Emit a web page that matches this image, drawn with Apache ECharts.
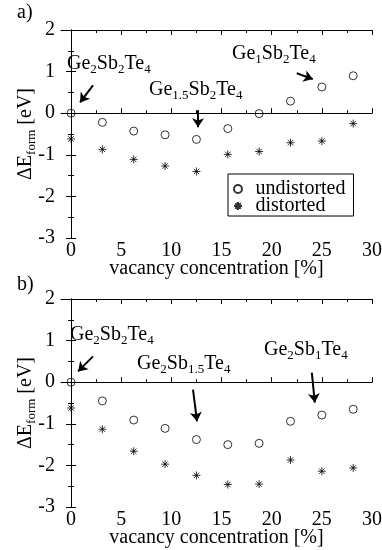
<!DOCTYPE html>
<html>
<head>
<meta charset="utf-8">
<script src="https://cdn.jsdelivr.net/npm/echarts@6/dist/echarts.min.js"></script>
<style>
  html, body { margin: 0; padding: 0; background: #fff; }
  #chart { width: 382px; height: 550px; }
</style>
</head>
<body>
<div id="chart"></div>
<script>
// vacancy concentration [%]
const vacancy = [0, 3.125, 6.25, 9.375, 12.5, 15.625, 18.75, 21.875, 25, 28.125]
// panel a) Ge removed
const undistA = [0, -0.22, -0.43, -0.52, -0.63, -0.37, -0.01, 0.29, 0.63, 0.90]
const distA = [-0.62, -0.87, -1.11, -1.27, -1.40, -0.99, -0.92, -0.71, -0.67, -0.25]
// panel b) Sb removed
const undistB = [0, -0.45, -0.91, -1.11, -1.38, -1.50, -1.47, -0.94, -0.79, -0.65]
const distB = [-0.62, -1.13, -1.66, -1.97, -2.24, -2.46, -2.45, -1.87, -2.14, -2.06]

const xMajor = [0, 5, 10, 15, 20, 25, 30]
const xMinor = [2.5, 7.5, 12.5, 17.5, 22.5, 27.5]

const FONT = 'Liberation Serif'
const star = 'path://M5,0L5,10M0,5L10,5M1.6,1.6L8.4,8.4M1.6,8.4L8.4,1.6'

const chart = echarts.init(document.getElementById('chart'))

const zip = (ys) => vacancy.map((x, i) => [x, ys[i]])

function xAxes (g) {
  const base = {
    type: 'value',
    gridIndex: g,
    min: -1,
    max: 30,
    splitLine: { show: false },
    axisLine: { show: true, lineStyle: { color: '#000', width: 1 } }
  }
  return [
    Object.assign({}, base, {
      position: 'bottom',
      axisTick: { inside: true, length: 5, customValues: xMajor, lineStyle: { color: '#000' } },
      axisLabel: { customValues: xMajor, margin: 3, color: '#000', fontFamily: FONT, fontSize: 20 },
      name: 'vacancy concentration [%]',
      nameLocation: 'middle',
      nameGap: 21,
      nameMoveOverlap: false,
      nameTextStyle: { color: '#000', fontFamily: FONT, fontSize: 20 }
    }),
    Object.assign({}, base, {
      position: 'bottom',
      axisLine: { show: false },
      axisTick: { inside: true, length: 3, customValues: xMinor, lineStyle: { color: '#000' } },
      axisLabel: { show: false }
    }),
    Object.assign({}, base, {
      position: 'top',
      axisTick: { inside: true, length: 5, customValues: xMajor, lineStyle: { color: '#000' } },
      axisLabel: { show: false }
    }),
    Object.assign({}, base, {
      position: 'top',
      axisLine: { show: false },
      axisTick: { inside: true, length: 3, customValues: xMinor, lineStyle: { color: '#000' } },
      axisLabel: { show: false }
    })
  ]
}

function yAxes (g) {
  const base = {
    type: 'value',
    gridIndex: g,
    min: -3,
    max: 2,
    interval: 1,
    splitLine: { show: false },
    axisLine: { show: true, lineStyle: { color: '#000', width: 1 } },
    axisTick: { inside: true, length: 5, lineStyle: { color: '#000' } },
    minorTick: { show: true, splitNumber: 2, length: 3, lineStyle: { color: '#000' } }
  }
  return [
    Object.assign({}, base, {
      position: 'left',
      axisLabel: { margin: 6, color: '#000', fontFamily: FONT, fontSize: 20 },
      name: '{n|ΔE}{s|form}{n| [eV]}',
      nameLocation: 'middle',
      nameGap: 23,
      nameMoveOverlap: false,
      nameRotate: 90,
      nameTextStyle: {
        color: '#000',
        fontFamily: FONT,
        rich: {
          n: { fontFamily: FONT, fontSize: 20, color: '#000', lineHeight: 22, verticalAlign: 'top' },
          s: { fontFamily: FONT, fontSize: 13, color: '#000', lineHeight: 7, verticalAlign: 'bottom' }
        }
      }
    }),
    Object.assign({}, base, {
      position: 'right',
      axisLabel: { show: false }
    })
  ]
}

function arrow (x1, y1, x2, y2) {
  return [{ coord: [x1, y1] }, { coord: [x2, y2] }]
}

function pair (g, undist, dist, arrows) {
  return [
    {
      name: 'undistorted',
      type: 'scatter',
      xAxisIndex: g * 4,
      yAxisIndex: g * 2,
      symbol: 'circle',
      symbolSize: 8,
      itemStyle: { color: 'transparent', borderColor: '#000', borderWidth: 1 },
      data: zip(undist),
      markLine: {
        silent: true,
        symbol: ['none', 'arrow'],
        symbolSize: 9,
        label: { show: false },
        emphasis: { disabled: true },
        lineStyle: { color: '#000', width: 2, type: 'solid', opacity: 1 },
        data: arrows
      }
    },
    {
      name: 'distorted',
      type: 'scatter',
      xAxisIndex: g * 4,
      yAxisIndex: g * 2,
      symbol: star,
      symbolSize: 8,
      itemStyle: { color: '#000', borderColor: '#000', borderWidth: 1 },
      data: zip(dist)
    }
  ]
}

const rich = {
  n: { fontFamily: FONT, fontSize: 20, fill: '#000', lineHeight: 22, verticalAlign: 'top' },
  s: { fontFamily: FONT, fontSize: 13, fill: '#000', lineHeight: 7, verticalAlign: 'bottom' }
}

function formula (text, x, y) {
  return { type: 'text', left: x, top: y, style: { text: text, rich: rich } }
}

const option = {
  backgroundColor: '#fff',
  animation: false,
  grid: [
    { left: 61, top: 30, width: 311, height: 208, outerBoundsMode: 'none', containLabel: false },
    { left: 61, top: 299, width: 311, height: 208, outerBoundsMode: 'none', containLabel: false }
  ],
  xAxis: xAxes(0).concat(xAxes(1)),
  yAxis: yAxes(0).concat(yAxes(1)),
  legend: {
    data: ['undistorted', 'distorted'],
    orient: 'vertical',
    left: 228,
    top: 174,
    padding: [5, 8, 0, 5],
    itemWidth: 25,
    itemHeight: 8,
    itemGap: -3,
    borderColor: '#000',
    borderWidth: 1,
    borderRadius: 0,
    textStyle: { color: '#000', fontFamily: FONT, fontSize: 20, lineHeight: 17 }
  },
  series: pair(0, undistA, distA, [
    arrow(2.19, 0.67, 0.90, 0.26),
    arrow(12.66, 0.07, 12.66, -0.34),
    arrow(22.5, 0.96, 24.1, 0.82)
  ]).concat(pair(1, undistB, distB, [
    arrow(2.19, 0.62, 0.70, 0.26),
    arrow(12.16, -0.18, 12.56, -0.94),
    arrow(24.0, 0.23, 24.3, -0.49)
  ])),
  graphic: [
    { type: 'text', left: 17, top: 3, style: { text: 'a)', font: '20px "Liberation Serif"', fill: '#000' } },
    { type: 'text', left: 17, top: 275, style: { text: 'b)', font: '20px "Liberation Serif"', fill: '#000' } },
    formula('{n|Ge}{s|2}{n|Sb}{s|2}{n|Te}{s|4}', 67, 54),
    formula('{n|Ge}{s|1.5}{n|Sb}{s|2}{n|Te}{s|4}', 149, 80),
    formula('{n|Ge}{s|1}{n|Sb}{s|2}{n|Te}{s|4}', 232, 44),
    formula('{n|Ge}{s|2}{n|Sb}{s|2}{n|Te}{s|4}', 70, 325),
    formula('{n|Ge}{s|2}{n|Sb}{s|1.5}{n|Te}{s|4}', 137, 354),
    formula('{n|Ge}{s|2}{n|Sb}{s|1}{n|Te}{s|4}', 264, 340)
  ]
}

chart.setOption(option)
</script>
</body>
</html>
